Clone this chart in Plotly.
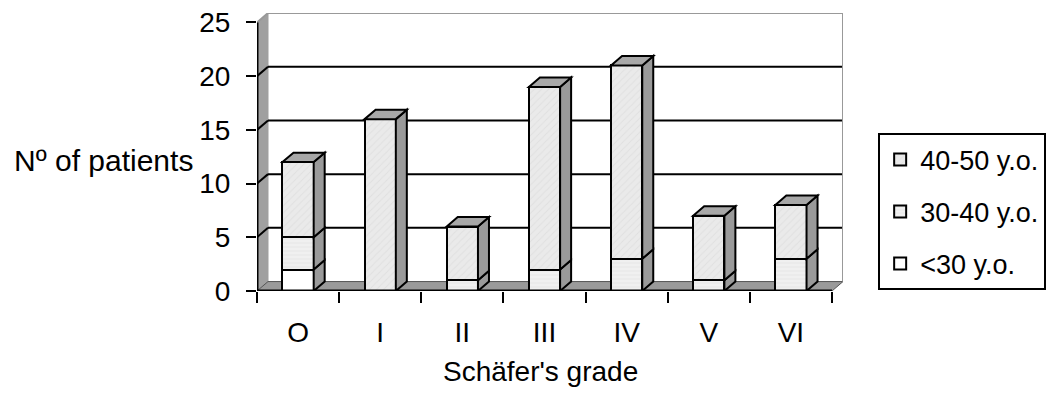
import plotly.graph_objects as go

categories = ["O", "I", "II", "III", "IV", "V", "VI"]
series_names = ["<30 y.o.", "30-40 y.o.", "40-50 y.o."]
under30 = [2, 0, 0, 0, 0, 0, 0]
age30_40 = [3, 0, 1, 2, 3, 1, 3]
age40_50 = [7, 16, 5, 17, 18, 6, 5]
y_ticks = [0, 5, 10, 15, 20, 25]

series_values = [under30, age30_40, age40_50]
fills = ["#ffffff", "#ececec", "#e6e6e6"]
patterns = [dict(shape=""), dict(shape="-", fgcolor="#dcdcdc", bgcolor="#f0f0f0", size=4, solidity=0.25),
            dict(shape="/", fgcolor="#d6d6d6", bgcolor="#eaeaea", size=5, solidity=0.2)]

FONT = "Liberation Sans, Arial, sans-serif"
BW = 0.38      # bar width (category units)
DX = 0.134     # depth in x (category units)
DY = 0.88      # depth in y (value units)
YMAX = 25
N = len(categories)
xs = list(range(N))

fig = go.Figure()
for rank, (name, vals, col, pat) in enumerate(zip(series_names, series_values, fills, patterns)):
    fig.add_trace(go.Bar(
        x=xs, y=vals, name=name, width=BW,
        marker=dict(color=col, line=dict(color="black", width=2), pattern=pat),
        legendgroup=name, legendrank=1000 - rank, hoverinfo="skip"))

shapes = []
# left wall
shapes.append(dict(type="path", xref="x", yref="y", layer="below",
                   path=f"M{-0.5},0 L{-0.5+DX},{DY} L{-0.5+DX},{YMAX+DY} L{-0.5},{YMAX} Z",
                   fillcolor="#a0a0a0", line=dict(color="#a0a0a0", width=1)))
# floor
shapes.append(dict(type="path", xref="x", yref="y", layer="below",
                   path=f"M{-0.5},0 L{N-0.5},0 L{N-0.5+DX},{DY} L{-0.5+DX},{DY} Z",
                   fillcolor="#9a9a9a", line=dict(color="#555555", width=1)))
# back wall grid lines
for k in y_ticks[1:-1]:
    shapes.append(dict(type="line", xref="x", yref="y", layer="below",
                       x0=-0.5+DX, x1=N-0.5+DX, y0=k+DY, y1=k+DY, line=dict(color="black", width=2)))
    shapes.append(dict(type="line", xref="x", yref="y", layer="below",
                       x0=-0.5, x1=-0.5+DX, y0=k, y1=k+DY, line=dict(color="black", width=2)))
# back wall top and right edges
shapes.append(dict(type="line", xref="x", yref="y", layer="below",
                   x0=-0.5+DX, x1=N-0.5+DX, y0=YMAX+DY, y1=YMAX+DY, line=dict(color="#999999", width=2)))
shapes.append(dict(type="line", xref="x", yref="y", layer="below",
                   x0=-0.5, x1=-0.5+DX, y0=YMAX, y1=YMAX+DY, line=dict(color="#999999", width=2)))
shapes.append(dict(type="line", xref="x", yref="y", layer="below",
                   x0=N-0.5+DX, x1=N-0.5+DX, y0=DY, y1=YMAX+DY, line=dict(color="#999999", width=2)))

# bar side and top faces
for i in xs:
    x1 = i + BW / 2
    x0 = i - BW / 2
    base = 0
    for vals in series_values:
        v = vals[i]
        if v <= 0:
            continue
        top = base + v
        shapes.append(dict(type="path", xref="x", yref="y", layer="above",
                           path=f"M{x1},{base} L{x1+DX},{base+DY} L{x1+DX},{top+DY} L{x1},{top} Z",
                           fillcolor="#9a9a9a", line=dict(color="black", width=2)))
        base = top
    shapes.append(dict(type="path", xref="x", yref="y", layer="above",
                       path=f"M{x0},{base} L{x0+DX},{base+DY} L{x1+DX},{base+DY} L{x1},{base} Z",
                       fillcolor="#a8a8a8", line=dict(color="black", width=2)))

# front axis lines
shapes.append(dict(type="line", xref="x", yref="y", x0=-0.5, x1=-0.5, y0=0, y1=YMAX,
                   line=dict(color="black", width=3)))
shapes.append(dict(type="line", xref="x", yref="y", x0=-0.5, x1=N-0.5, y0=0, y1=0,
                   line=dict(color="black", width=3)))

fig.update_layout(
    width=1064, height=401,
    margin=dict(l=257, r=221, t=12.5, b=110, autoexpand=False),
    paper_bgcolor="white", plot_bgcolor="white",
    barmode="stack", bargap=0,
    font=dict(family=FONT, size=28, color="black"),
    shapes=shapes,
    showlegend=True,
    legend=dict(x=1.06, y=0.567, xanchor="left", yanchor="top",
                traceorder="grouped", tracegroupgap=14,
                bordercolor="black", borderwidth=2, bgcolor="white",
                font=dict(family=FONT, size=27), entrywidth=185, itemwidth=30),
    xaxis=dict(range=[-0.5, N - 0.5 + DX], tickvals=xs, ticktext=categories,
               ticks="", showgrid=False, showline=False, zeroline=False,
               tickfont=dict(size=28), ticklabelstandoff=22,
               minor=dict(tickvals=[i - 0.5 for i in range(N + 1)], ticks="outside",
                          ticklen=11, tickwidth=2, tickcolor="black", showgrid=False)),
    yaxis=dict(range=[0, YMAX + DY], tickvals=y_ticks, ticks="outside", ticklen=10,
               tickwidth=2, tickcolor="black", showgrid=False, showline=False,
               zeroline=False, tickfont=dict(size=28), ticklabelstandoff=10),
    annotations=[dict(text="Nº of patients", xref="paper", yref="paper",
                      x=-0.106, y=0.47, xanchor="right", yanchor="middle",
                      showarrow=False, font=dict(size=30)),
                 dict(text="Schäfer's grade", xref="x", yref="paper",
                      x=3.0 - 0.05, y=-0.29, xanchor="center", yanchor="middle",
                      showarrow=False, font=dict(size=28))],
)

fig.write_html("out.html", post_script="document.body.style.margin='0px';",
               config={"displayModeBar": False})
